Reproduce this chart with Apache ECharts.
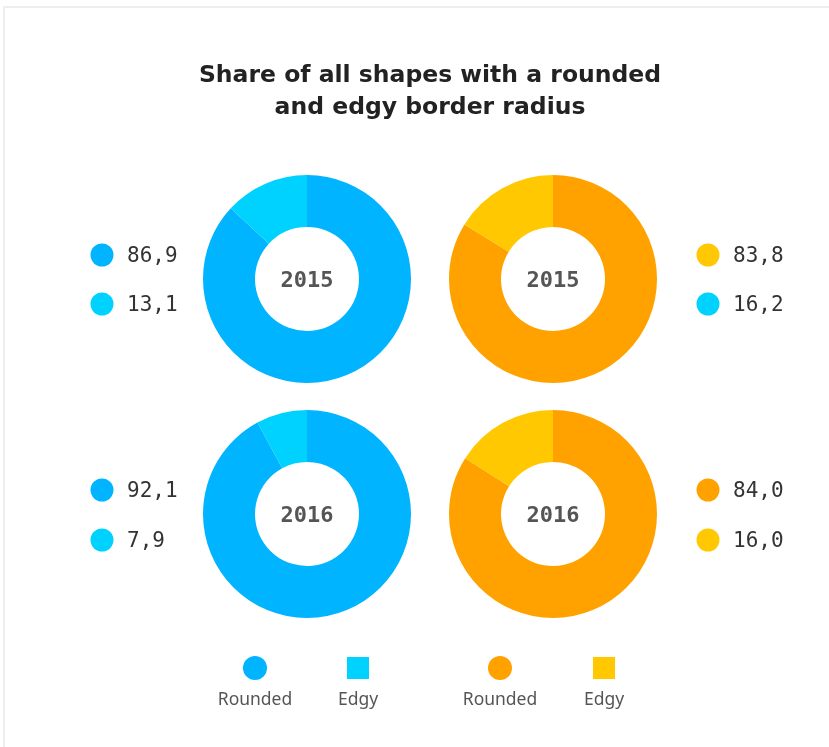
<!DOCTYPE html>
<html>
<head>
<meta charset="utf-8">
<script src="https://cdn.jsdelivr.net/npm/echarts@6/dist/echarts.min.js"></script>
<style>
  html, body { margin: 0; padding: 0; background: #ffffff; }
  #chart { width: 829px; height: 747px; }
</style>
</head>
<body>
<div id="chart"></div>
<script>
// Shares of rounded vs. edgy shapes, per year and per group
const years = ['2015', '2015', '2016', '2016'];
const roundedShare = [86.9, 83.8, 92.1, 84.0];
const edgyShare = [13.1, 16.2, 7.9, 16.0];
const categories = ['Rounded', 'Edgy'];

// Palette
const blue = '#00b4ff';
const cyan = '#00d2ff';
const orange = '#ffa200';
const yellow = '#ffc800';
const sliceColors = [[blue, cyan], [orange, yellow], [blue, cyan], [orange, yellow]];
const dotColors = [[blue, cyan], [yellow, cyan], [blue, cyan], [orange, yellow]];

// Layout for the four donuts
const centers = [[307, 279], [553, 279], [307, 514], [553, 514]];
const labelSide = ['left', 'right', 'left', 'right'];

const fmt = v => v.toFixed(1).replace('.', ',');

const chart = echarts.init(document.getElementById('chart'), null, { renderer: 'canvas' });

const series = years.map((y, i) => ({
  type: 'pie',
  name: y,
  center: centers[i],
  radius: [52, 104],
  startAngle: 90,
  clockwise: true,
  silent: true,
  label: { show: false },
  labelLine: { show: false },
  itemStyle: { borderWidth: 0 },
  data: [
    { name: categories[0], value: roundedShare[i], itemStyle: { color: sliceColors[i][0] } },
    { name: categories[1], value: edgyShare[i], itemStyle: { color: sliceColors[i][1] } }
  ]
}));

const graphics = [
  // card frame
  {
    type: 'rect', silent: true, z: -10,
    shape: { x: 4, y: 7, width: 900, height: 800 },
    style: { fill: '#ffffff', stroke: '#eeeeee', lineWidth: 2 }
  }
];

// year labels in the donut holes
years.forEach((y, i) => {
  graphics.push({
    type: 'text', silent: true, z: 10,
    x: centers[i][0], y: centers[i][1] + 2,
    style: {
      text: y, fill: '#555555',
      font: 'bold 22px "DejaVu Sans Mono", monospace',
      align: 'center', verticalAlign: 'middle'
    }
  });
});

// value keys beside each donut
const valueRows = [[255, 304], [255, 304], [490, 540], [490, 540]];
years.forEach((y, i) => {
  const vals = [roundedShare[i], edgyShare[i]];
  const dotX = labelSide[i] === 'left' ? 102 : 708;
  vals.forEach((v, k) => {
    const cy = valueRows[i][k];
    graphics.push({
      type: 'circle', silent: true,
      shape: { cx: dotX, cy: cy, r: 11.5 },
      style: { fill: dotColors[i][k] }
    });
    graphics.push({
      type: 'text', silent: true,
      x: dotX + 25, y: cy + 2,
      style: {
        text: fmt(v), fill: '#333333',
        font: '21px "DejaVu Sans Mono", monospace',
        align: 'left', verticalAlign: 'middle'
      }
    });
  });
});

// bottom legend
const legendItems = [
  { x: 255, shape: 'circle', color: blue, text: categories[0] },
  { x: 358, shape: 'square', color: cyan, text: categories[1] },
  { x: 500, shape: 'circle', color: orange, text: categories[0] },
  { x: 604, shape: 'square', color: yellow, text: categories[1] }
];
legendItems.forEach(it => {
  if (it.shape === 'circle') {
    graphics.push({
      type: 'circle', silent: true,
      shape: { cx: it.x, cy: 668, r: 12 },
      style: { fill: it.color }
    });
  } else {
    graphics.push({
      type: 'rect', silent: true,
      shape: { x: it.x - 11, y: 657, width: 22, height: 22 },
      style: { fill: it.color }
    });
  }
  graphics.push({
    type: 'text', silent: true,
    x: it.x, y: 700,
    style: {
      text: it.text, fill: '#555555',
      font: '17.5px "Noto Sans", sans-serif',
      align: 'center', verticalAlign: 'middle'
    }
  });
});

chart.setOption({
  backgroundColor: '#ffffff',
  animation: false,
  title: {
    text: 'Share of all shapes with a rounded\nand edgy border radius',
    left: 425, top: 55, textAlign: 'center',
    textStyle: {
      fontFamily: '"DejaVu Sans", sans-serif',
      fontWeight: 'bold', fontSize: 23.5, lineHeight: 32, color: '#222222'
    }
  },
  graphic: graphics,
  series: series
});
</script>
</body>
</html>
